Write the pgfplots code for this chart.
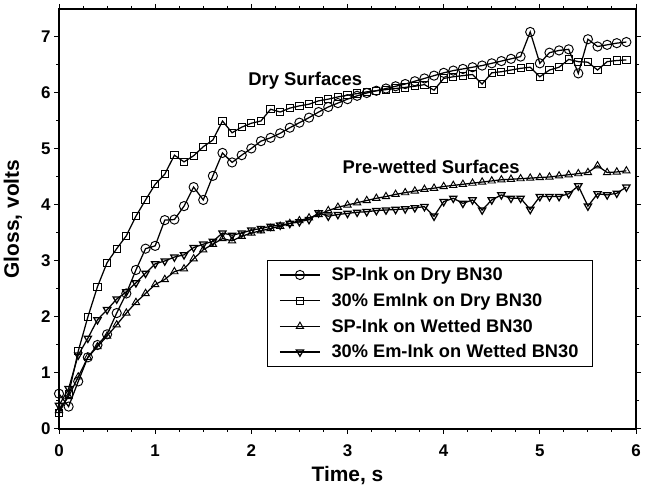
\documentclass[border=0pt]{standalone}
\usepackage{fontspec}
\setmainfont{Liberation Sans}
\usepackage{pgfplots}
\pgfplotsset{compat=1.18}
\usepackage{pgfplotstable}

% Gloss readings, one sample every 0.1 s
\pgfplotstableread{
t    v
0.0  0.63
0.1  0.40
0.2  0.85
0.3  1.28
0.4  1.50
0.5  1.69
0.6  2.07
0.7  2.42
0.8  2.84
0.9  3.22
1.0  3.27
1.1  3.73
1.2  3.74
1.3  3.98
1.4  4.32
1.5  4.09
1.6  4.52
1.7  4.93
1.8  4.76
1.9  4.89
2.0  5.01
2.1  5.14
2.2  5.20
2.3  5.28
2.4  5.38
2.5  5.47
2.6  5.56
2.7  5.66
2.8  5.75
2.9  5.82
3.0  5.89
3.1  5.95
3.2  6.00
3.3  6.04
3.4  6.08
3.5  6.12
3.6  6.16
3.7  6.21
3.8  6.26
3.9  6.31
4.0  6.36
4.1  6.40
4.2  6.43
4.3  6.46
4.4  6.49
4.5  6.53
4.6  6.57
4.7  6.61
4.8  6.65
4.9  7.09
5.0  6.53
5.1  6.72
5.2  6.76
5.3  6.78
5.4  6.35
5.5  6.96
5.6  6.83
5.7  6.86
5.8  6.89
5.9  6.91
}\spdry

\pgfplotstableread{
t    v
0.0  0.28
0.1  0.62
0.2  1.39
0.3  2.00
0.4  2.54
0.5  2.97
0.6  3.22
0.7  3.45
0.8  3.80
0.9  4.09
1.0  4.37
1.1  4.55
1.2  4.89
1.3  4.77
1.4  4.88
1.5  5.04
1.6  5.16
1.7  5.50
1.8  5.29
1.9  5.39
2.0  5.46
2.1  5.50
2.2  5.71
2.3  5.66
2.4  5.73
2.5  5.77
2.6  5.80
2.7  5.86
2.8  5.89
2.9  5.93
3.0  5.96
3.1  5.99
3.2  6.02
3.3  6.04
3.4  6.06
3.5  6.08
3.6  6.10
3.7  6.12
3.8  6.15
3.9  6.05
4.0  6.26
4.1  6.29
4.2  6.31
4.3  6.33
4.4  6.16
4.5  6.36
4.6  6.38
4.7  6.41
4.8  6.44
4.9  6.46
5.0  6.29
5.1  6.41
5.2  6.46
5.3  6.60
5.4  6.56
5.5  6.55
5.6  6.41
5.7  6.56
5.8  6.58
5.9  6.59
}\emdry

\pgfplotstableread{
t    v
0.0  0.33
0.1  0.58
0.2  0.93
0.3  1.28
0.4  1.47
0.5  1.66
0.6  1.86
0.7  2.07
0.8  2.26
0.9  2.42
1.0  2.58
1.1  2.67
1.2  2.81
1.3  2.86
1.4  3.04
1.5  3.20
1.6  3.30
1.7  3.40
1.8  3.36
1.9  3.44
2.0  3.50
2.1  3.54
2.2  3.58
2.3  3.62
2.4  3.67
2.5  3.72
2.6  3.77
2.7  3.83
2.8  3.90
2.9  3.96
3.0  4.00
3.1  4.04
3.2  4.08
3.3  4.12
3.4  4.15
3.5  4.19
3.6  4.22
3.7  4.25
3.8  4.28
3.9  4.30
4.0  4.33
4.1  4.35
4.2  4.37
4.3  4.39
4.4  4.41
4.5  4.43
4.6  4.45
4.7  4.46
4.8  4.47
4.9  4.48
5.0  4.49
5.1  4.50
5.2  4.52
5.3  4.54
5.4  4.56
5.5  4.58
5.6  4.70
5.7  4.58
5.8  4.59
5.9  4.61
}\spwet

\pgfplotstableread{
t    v
0.0  0.42
0.1  0.72
0.2  1.32
0.3  1.62
0.4  1.95
0.5  2.13
0.6  2.32
0.7  2.45
0.8  2.61
0.9  2.78
1.0  2.95
1.1  3.00
1.2  3.07
1.3  3.11
1.4  3.24
1.5  3.30
1.6  3.35
1.7  3.50
1.8  3.46
1.9  3.50
2.0  3.55
2.1  3.58
2.2  3.62
2.3  3.64
2.4  3.67
2.5  3.70
2.6  3.74
2.7  3.86
2.8  3.80
2.9  3.83
3.0  3.85
3.1  3.87
3.2  3.88
3.3  3.90
3.4  3.91
3.5  3.92
3.6  3.93
3.7  3.95
3.8  3.97
3.9  3.80
4.0  4.06
4.1  4.12
4.2  4.03
4.3  4.09
4.4  3.91
4.5  4.09
4.6  4.18
4.7  4.12
4.8  4.12
4.9  3.92
5.0  4.15
5.1  4.15
5.2  4.15
5.3  4.20
5.4  4.34
5.5  3.98
5.6  4.20
5.7  4.18
5.8  4.21
5.9  4.32
}\emwet

\begin{document}
\begin{tikzpicture}
\begin{axis}[
  scale only axis,
  width=577bp, height=420bp,
  xmin=0, xmax=6, ymin=0, ymax=7.5,
  xtick={0,1,2,3,4,5,6}, ytick={0,1,2,3,4,5,6,7},
  minor x tick num=3, minor y tick num=1,
  tick align=outside,
  major tick length=5bp, minor tick length=3bp,
  every tick/.style={black, line width=1bp},
  axis line style={line width=1.4bp},
  /pgf/number format/assume math mode=true,
  tick label style={font=\fontsize{17}{17}\selectfont\bfseries},
  xticklabel style={yshift=-7bp},
  xlabel={Time, s},
  ylabel={Gloss, volts},
  label style={font=\fontsize{21}{21}\selectfont\bfseries},
  xlabel style={at={(axis description cs:0.5,-0.111)}, anchor=center},
  ylabel style={at={(axis description cs:-0.0797,0.5)}, anchor=center},
  legend style={at={(0.9255,0.1476)}, anchor=south east, draw=black,
    line width=1.2bp, font=\fontsize{18.3}{18.3}\selectfont\bfseries,
    row sep=7bp, inner xsep=12bp, inner ysep=5bp,
    /tikz/every odd column/.append style={column sep=9bp}},
  legend cell align=left,
  legend image code/.code={%
    \draw[line width=1.25bp, mark repeat=2, mark phase=2]
      plot coordinates {(0bp,0bp) (20bp,0bp) (40bp,0bp)};},
  every axis plot/.append style={black, line width=1.25bp,
    mark options={solid, line width=0.95bp}},
]
\addplot[mark=o, mark size=4.6bp] table[x=t, y=v] {\spdry};
\addlegendentry{SP-Ink on Dry BN30}
\addplot[mark=square, mark size=3.6bp] table[x=t, y=v] {\emdry};
\addlegendentry{30\% EmInk on Dry BN30}
\addplot[mark=triangle, mark size=4.2bp] table[x=t, y=v] {\spwet};
\addlegendentry{SP-Ink on Wetted BN30}
\addplot[mark=triangle, mark size=4.2bp, mark options={rotate=180}] table[x=t, y=v] {\emwet};
\addlegendentry{30\% Em-Ink on Wetted BN30}

\node[font=\fontsize{18.5}{18.5}\selectfont\bfseries] at (axis cs:2.56,6.21) {Dry Surfaces};
\node[font=\fontsize{18.5}{18.5}\selectfont\bfseries] at (axis cs:3.87,4.68) {Pre-wetted Surfaces};
\end{axis}
\pgfresetboundingbox
\path ([shift={(-59bp,-58bp)}]current axis.south west)
  rectangle ([shift={(11bp,9bp)}]current axis.north east);
\end{tikzpicture}
\end{document}
